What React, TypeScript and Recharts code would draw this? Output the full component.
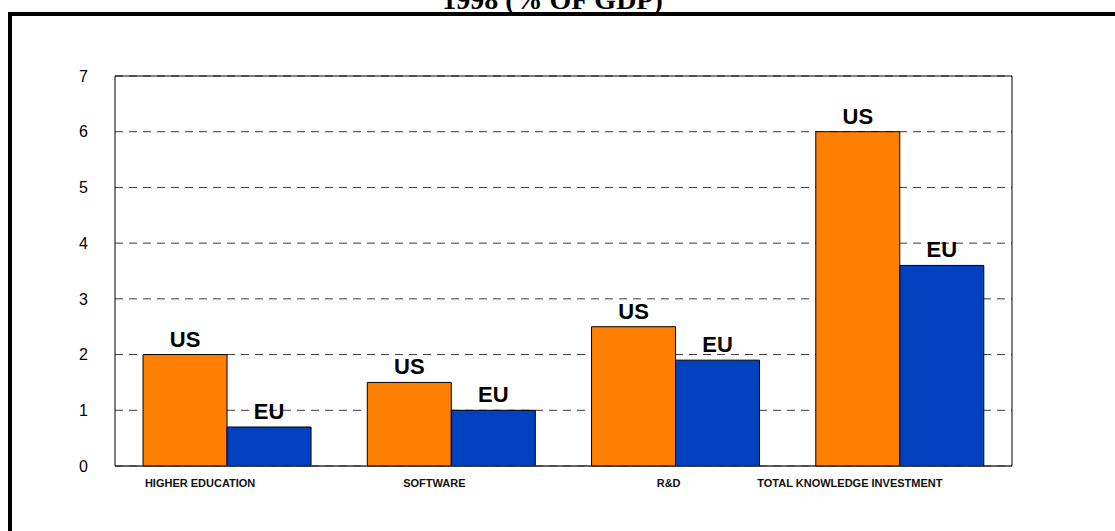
import { BarChart, Bar, XAxis, YAxis, CartesianGrid, LabelList, ReferenceLine } from 'recharts'

const categories = ['HIGHER EDUCATION', 'SOFTWARE', 'R&D', 'TOTAL KNOWLEDGE INVESTMENT']
const usValues = [2, 1.5, 2.5, 6]
const euValues = [0.7, 1.0, 1.9, 3.6]
const yTicks = [0, 1, 2, 3, 4, 5, 6, 7]

const data = categories.map((name, i) => ({ name, US: usValues[i], EU: euValues[i] }))

// category labels in the original sit a little left of the group centre
const TICK_SHIFT = [-27, -17, -7, -50]

const CategoryTick = (props: any) => {
  const { x, y, payload, index } = props
  return (
    <text
      x={x + (TICK_SHIFT[index] ?? 0)}
      y={y}
      dy={13}
      textAnchor="middle"
      fontFamily="Arial, 'Liberation Sans', sans-serif"
      fontWeight="bold"
      fontSize={11}
      fill="#111"
    >
      {payload.value}
    </text>
  )
}

const labelStyle = {
  fontFamily: "Arial, 'Liberation Sans', sans-serif",
  fontWeight: 'bold',
  fontSize: 22,
  fill: '#000',
}

export default function App() {
  return (
    <div
      style={{
        position: 'absolute',
        left: 0,
        top: 0,
        width: 1115,
        height: 531,
        overflow: 'hidden',
        background: '#fff',
      }}
    >
      <div
        style={{
          position: 'absolute',
          left: 8,
          top: 12,
          width: 1200,
          height: 600,
          border: '4px solid #000',
        }}
      />
      <div
        style={{
          position: 'absolute',
          left: 0,
          width: 1105,
          top: -14,
          textAlign: 'center',
          fontFamily: "'Liberation Serif', 'Times New Roman', serif",
          fontWeight: 'bold',
          fontSize: 28,
          lineHeight: '28px',
        }}
      >
        1998 (% OF GDP)
      </div>
      <div style={{ position: 'absolute', left: 0, top: 0 }}>
        <BarChart
          width={1115}
          height={531}
          data={data}
          margin={{ top: 76, right: 102, bottom: 35, left: 75 }}
          barCategoryGap="12.5%"
          barGap={0}
        >
          <CartesianGrid vertical={false} stroke="#3a3a3a" strokeDasharray="8 6" />
          <XAxis
            dataKey="name"
            tick={<CategoryTick />}
            tickLine={false}
            axisLine={{ stroke: '#333', strokeWidth: 1.5 }}
            interval={0}
          />
          <YAxis
            domain={[0, 7]}
            ticks={yTicks}
            width={40}
            tickLine={false}
            tickSize={0}
            tickMargin={27}
            axisLine={{ stroke: '#000' }}
            tick={{ fontFamily: "Arial, 'Liberation Sans', sans-serif", fontSize: 16, fill: '#000' }}
          />
          <YAxis
            yAxisId="right"
            orientation="right"
            domain={[0, 7]}
            width={1}
            tick={false}
            tickLine={false}
            axisLine={{ stroke: '#000' }}
          />
          <ReferenceLine y={7} stroke="#000" strokeWidth={1} />
          <Bar dataKey="US" fill="#FF8000" stroke="#000" strokeWidth={1} isAnimationActive={false}>
            <LabelList dataKey="US" position="top" offset={8} formatter={() => 'US'} style={labelStyle} />
          </Bar>
          <Bar dataKey="EU" fill="#0041BF" stroke="#000" strokeWidth={1} isAnimationActive={false}>
            <LabelList dataKey="EU" position="top" offset={8} formatter={() => 'EU'} style={labelStyle} />
          </Bar>
        </BarChart>
      </div>
    </div>
  )
}
